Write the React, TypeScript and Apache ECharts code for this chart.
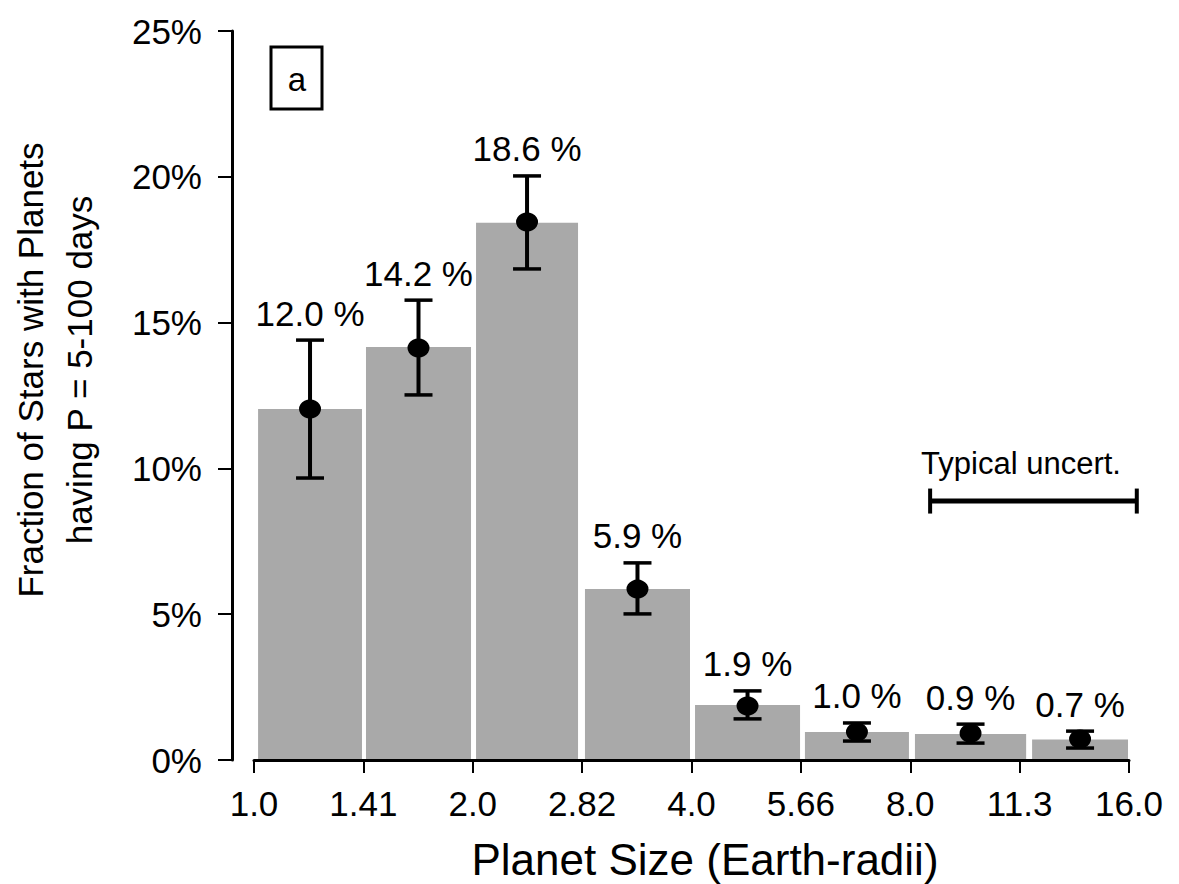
import React, { useEffect, useRef } from "react";
import * as echarts from "echarts";

// x tick labels at bin edges (log2-spaced planet radii)
const binTicks = ["1.0", "1.41", "2.0", "2.82", "4.0", "5.66", "8.0", "11.3", "16.0"];
// bar extents in Earth radii
const barLo = [1.013, 1.426, 2.021, 2.854, 4.045, 5.73, 8.12, 11.77];
const barHi = [1.408, 1.989, 2.792, 3.981, 5.642, 7.967, 11.55, 15.95];
// values in percent
const barValues = [12.04, 14.16, 18.42, 5.86, 1.89, 0.96, 0.89, 0.7];
const pointValues = [12.04, 14.13, 18.45, 5.86, 1.85, 0.96, 0.92, 0.72];
const errLow = [9.67, 12.52, 16.84, 5.01, 1.41, 0.65, 0.58, 0.41];
const errHigh = [14.4, 15.77, 20.03, 6.76, 2.37, 1.27, 1.23, 0.99];
const pctLabels = ["12.0 %", "14.2 %", "18.6 %", "5.9 %", "1.9 %", "1.0 %", "0.9 %", "0.7 %"];
// typical uncertainty annotation (radii span, percent level)
const uncertSpan = [8.52, 16.4];
const uncertLevel = 8.88;

const FONT = "'Liberation Sans', Arial, Helvetica, sans-serif";
const INK = "#000";

export default function App() {
  const ref = useRef<HTMLDivElement>(null);
  useEffect(() => {
    document.body.style.margin = "0";
    const chart = echarts.init(ref.current!, null, { renderer: "svg" });
    const lg = (v: number) => Math.log2(v);
    const centers = barLo.map((lo, i) => (lg(lo) + lg(barHi[i])) / 2);

    const option: any = {
      animation: false,
      backgroundColor: "#ffffff",
      grid: { left: 254, right: 50, top: 31, bottom: 124 },
      xAxis: {
        type: "value",
        min: 0,
        max: 4,
        interval: 0.5,
        z: 10,
        axisLine: { show: true, onZero: false, lineStyle: { color: INK, width: 3 } },
        axisTick: { show: true, length: 13, lineStyle: { color: INK, width: 2 } },
        splitLine: { show: false },
        axisLabel: {
          margin: 26,
          fontSize: 35,
          fontFamily: FONT,
          color: INK,
          formatter: (v: number) => binTicks[Math.round(v / 0.5)] ?? "",
        },
      },
      yAxis: {
        type: "value",
        min: 0,
        max: 25,
        interval: 5,
        offset: 22,
        axisLine: { show: true, onZero: false, lineStyle: { color: INK, width: 3 } },
        axisTick: { show: true, length: 14, lineStyle: { color: INK, width: 2 } },
        splitLine: { show: false },
        axisLabel: {
          margin: 30,
          fontSize: 35,
          fontFamily: FONT,
          color: INK,
          formatter: "{value}%",
        },
      },
      series: [
        {
          type: "custom",
          name: "bars",
          data: barLo.map((lo, i) => [lg(lo), lg(barHi[i]), barValues[i]]),
          renderItem: (params: any, api: any) => {
            const p0 = api.coord([api.value(0), api.value(2)]);
            const p1 = api.coord([api.value(1), 0]);
            return {
              type: "rect",
              shape: { x: p0[0], y: p0[1], width: p1[0] - p0[0], height: p1[1] - p0[1] },
              style: { fill: "#a9a9a9" },
            };
          },
          z: 2,
        },
        {
          type: "custom",
          name: "errors",
          data: centers.map((c, i) => [c, errLow[i], errHigh[i]]),
          renderItem: (params: any, api: any) => {
            const lo = api.coord([api.value(0), api.value(1)]);
            const hi = api.coord([api.value(0), api.value(2)]);
            const hw = 14;
            return {
              type: "group",
              children: [
                { type: "line", shape: { x1: lo[0], y1: lo[1], x2: hi[0], y2: hi[1] }, style: { stroke: INK, lineWidth: 4 } },
                { type: "line", shape: { x1: lo[0] - hw, y1: lo[1], x2: lo[0] + hw, y2: lo[1] }, style: { stroke: INK, lineWidth: 3.5 } },
                { type: "line", shape: { x1: hi[0] - hw, y1: hi[1], x2: hi[0] + hw, y2: hi[1] }, style: { stroke: INK, lineWidth: 3.5 } },
              ],
            };
          },
          z: 3,
        },
        {
          type: "scatter",
          name: "points",
          data: centers.map((c, i) => [c, pointValues[i]]),
          symbol: "circle",
          symbolSize: [22, 19],
          itemStyle: { color: INK, opacity: 1 },
          z: 4,
        },
        {
          type: "custom",
          name: "labels",
          data: centers.map((c, i) => [c, errHigh[i], i]),
          renderItem: (params: any, api: any) => {
            const p = api.coord([api.value(0), api.value(1)]);
            return {
              type: "text",
              x: p[0],
              y: p[1] - 27,
              style: {
                text: pctLabels[params.dataIndex],
                fontSize: 35,
                fontFamily: FONT,
                fill: INK,
                align: "center",
                verticalAlign: "middle",
              },
            };
          },
          z: 5,
        },
        {
          type: "custom",
          name: "uncert",
          data: [[lg(uncertSpan[0]), lg(uncertSpan[1]), uncertLevel]],
          renderItem: (params: any, api: any) => {
            const a = api.coord([api.value(0), api.value(2)]);
            const b = api.coord([api.value(1), api.value(2)]);
            const hh = 12.5;
            return {
              type: "group",
              children: [
                { type: "line", shape: { x1: a[0], y1: a[1], x2: b[0], y2: b[1] }, style: { stroke: INK, lineWidth: 5 } },
                { type: "line", shape: { x1: a[0], y1: a[1] - hh, x2: a[0], y2: a[1] + hh }, style: { stroke: INK, lineWidth: 4 } },
                { type: "line", shape: { x1: b[0], y1: b[1] - hh, x2: b[0], y2: b[1] + hh }, style: { stroke: INK, lineWidth: 4 } },
              ],
            };
          },
          z: 5,
        },
      ],
      graphic: [
        {
          type: "rect",
          shape: { x: 271, y: 47, width: 51, height: 62 },
          style: { fill: "#fff", stroke: INK, lineWidth: 3 },
          z: 20,
        },
        {
          type: "text",
          x: 297,
          y: 79,
          style: { text: "a", fontSize: 33, fontFamily: FONT, fill: INK, align: "center", verticalAlign: "middle" },
          z: 21,
        },
        {
          type: "text",
          x: 1021,
          y: 463,
          style: { text: "Typical uncert.", fontSize: 31, fontFamily: FONT, fill: INK, align: "center", verticalAlign: "middle" },
          z: 21,
        },
        {
          type: "text",
          x: 705,
          y: 859,
          style: { text: "Planet Size (Earth-radii)", fontSize: 44, fontFamily: FONT, fill: INK, align: "center", verticalAlign: "middle" },
          z: 21,
        },
        {
          type: "text",
          x: 55,
          y: 370,
          rotation: Math.PI / 2,
          style: {
            text: "Fraction of Stars with Planets\nhaving P = 5-100 days",
            fontSize: 35,
            lineHeight: 49,
            fontFamily: FONT,
            fill: INK,
            align: "center",
            verticalAlign: "middle",
          },
          z: 21,
        },
      ],
    };
    chart.setOption(option);
    return () => chart.dispose();
  }, []);
  return <div ref={ref} style={{ width: 1179, height: 884 }} />;
}
